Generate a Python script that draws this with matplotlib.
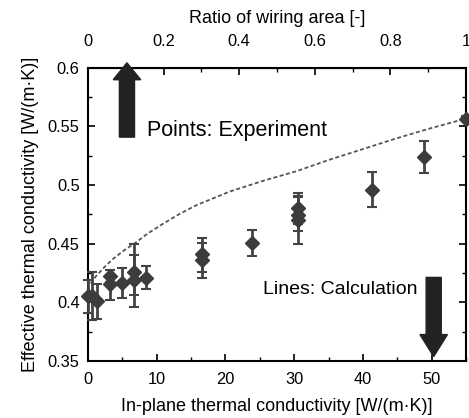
import numpy as np
import matplotlib
matplotlib.use("Agg")
import matplotlib.pyplot as plt
from matplotlib.ticker import MultipleLocator

plt.rcParams['font.family'] = ['Liberation Sans', 'DejaVu Sans']

# experiment (points)
k_exp = [0, 0.6, 1.3, 3.2, 3.2, 5.0, 6.7, 6.7, 8.4, 16.6, 16.6, 23.8,
         30.5, 30.5, 30.5, 41.3, 48.9, 55.0]
keff_exp = [0.405, 0.405, 0.401, 0.4226, 0.4155, 0.4167, 0.426, 0.419, 0.4203,
            0.4412, 0.4358, 0.4506, 0.480, 0.4746, 0.4703, 0.4958, 0.524, 0.5565]
err_lo = [0.014, 0.020, 0.015, 0.005, 0.0138, 0.0127, 0.020, 0.0227, 0.0093,
          0.0155, 0.0148, 0.0113, 0.013, 0.0141, 0.0203, 0.0147, 0.0136, 0.002]
err_hi = [0.014, 0.021, 0.015, 0.005, 0.012, 0.0127, 0.0237, 0.021, 0.0105,
          0.0136, 0.0148, 0.0113, 0.013, 0.0150, 0.0203, 0.015, 0.0133, 0.002]

# calculation (line)
k_calc = [0.4, 1.2, 2.4, 3.65, 5.2, 6.8, 8.8, 11.0, 13.4, 15.8, 20.7, 25.5,
          30.4, 35.0, 40.0, 44.8, 49.7, 55.0]
keff_calc = [0.416, 0.4225, 0.430, 0.437, 0.444, 0.4503, 0.459, 0.4672, 0.4755,
             0.4828, 0.4945, 0.5035, 0.5118, 0.5212, 0.5305, 0.5395, 0.548, 0.5565]

k_max = 55.0

fig = plt.figure(figsize=(4.69, 4.18), dpi=100)
ax = fig.add_axes([0.1876, 0.1364, 0.8060, 0.7021])

ax.plot(k_calc, keff_calc, ls=(0, (2.2, 1.4)), color='#555555', lw=1.3)
ax.errorbar(k_exp, keff_exp, yerr=[err_lo, err_hi], fmt='D', color='#3c3c3c',
            ms=7, ecolor='#444444', elinewidth=2, capsize=3.5, capthick=1.5,
            clip_on=False, zorder=3)

ax.set_xlim(0, k_max)
ax.set_ylim(0.35, 0.6)
ax.xaxis.set_major_locator(MultipleLocator(10))
ax.xaxis.set_minor_locator(MultipleLocator(5))
ax.yaxis.set_minor_locator(MultipleLocator(0.025))
ax.set_yticks([0.35, 0.4, 0.45, 0.5, 0.55, 0.6])
ax.set_yticklabels(['0.35', '0.4', '0.45', '0.5', '0.55', '0.6'])
ax.tick_params(which='both', direction='in', right=True, top=False, labelsize=11.8)
ax.tick_params(which='major', length=5, width=1.2)
ax.tick_params(which='minor', length=3, width=1.0)
ax.tick_params(axis='x', pad=8)
ax.tick_params(axis='y', pad=6)
for s in ax.spines.values():
    s.set_linewidth(1.5)

ax.set_xlabel('In-plane thermal conductivity [W/(m·K)]', fontsize=13, labelpad=8)
ax.set_ylabel('Effective thermal conductivity [W/(m·K)]', fontsize=13, labelpad=6)

top = ax.secondary_xaxis('top', functions=(lambda k: k / k_max, lambda r: r * k_max))
top.xaxis.set_minor_locator(MultipleLocator(0.1))
top.set_xticks([0, 0.2, 0.4, 0.6, 0.8, 1.0])
top.set_xticklabels(['0', '0.2', '0.4', '0.6', '0.8', '1'])
top.tick_params(which='both', direction='in', labelsize=11.8, pad=13)
top.tick_params(which='major', length=5, width=1.2)
top.tick_params(which='minor', length=3, width=1.0)
top.set_xlabel('Ratio of wiring area [-]', fontsize=13, labelpad=8)

# arrows
ax.arrow(5.67, 0.5407, 0, 0.0633, width=2.2, head_width=4.0, head_length=0.0144,
         length_includes_head=True, color='#222222', clip_on=False, zorder=4)
ax.arrow(50.3, 0.4212, 0, -0.0674, width=2.2, head_width=4.0, head_length=0.0187,
         length_includes_head=True, color='#222222', clip_on=False, zorder=4)

ax.text(8.6, 0.5466, 'Points: Experiment', fontsize=15.5, va='center', ha='left')
ax.text(25.5, 0.411, 'Lines: Calculation', fontsize=14, va='center', ha='left')

fig.savefig('out.png', dpi=100)
